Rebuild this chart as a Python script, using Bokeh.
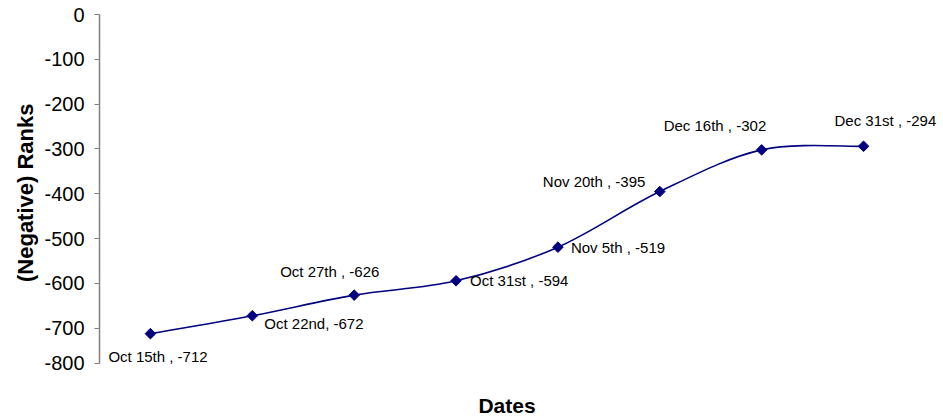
import math
from bokeh.plotting import figure
from bokeh.models import ColumnDataSource, LabelSet, Label, Range1d, FixedTicker, Title
from bokeh.core.properties import value
from bokeh.embed import file_html
from bokeh.resources import INLINE

# ---- data ----
dates = ["Oct 15th", "Oct 22nd", "Oct 27th", "Oct 31st", "Nov 5th", "Nov 20th", "Dec 16th", "Dec 31st"]
ranks = [-712, -672, -626, -594, -519, -395, -302, -294]
label_texts = ["Oct 15th , -712", "Oct 22nd, -672", "Oct 27th , -626", "Oct 31st , -594",
               "Nov 5th , -519", "Nov 20th , -395", "Dec 16th , -302", "Dec 31st , -294"]
y_tick_values = [0, -100, -200, -300, -400, -500, -600, -700, -800]

# ---- styles / positions ----
label_dx = [-42, 12, -74, 14, 13, -117, -98, -29]
label_dy = [-23, -8, 24, 0, 0, 10, 24, 26]
NAVY = "#000080"
FONT = "Liberation Sans"
Y_BOTTOM = -778          # where the value axis ends
Y_VIEW_BOTTOM = -899     # visible room below it, for the "Dates" title
X_EXTRA = 29 / 101.8     # blank room right of the last category, in category units

xs = [i + 0.5 for i in range(len(dates))]

p = figure(width=943, height=417, output_backend="svg", toolbar_location=None,
           x_range=Range1d(0, len(dates) + X_EXTRA), y_range=Range1d(Y_VIEW_BOTTOM, 0),
           min_border_left=99, min_border_right=0, min_border_top=14, min_border_bottom=0,
           x_axis_location=None)
p.outline_line_color = None
p.xgrid.visible = False
p.ygrid.visible = False
p.background_fill_color = "white"
p.border_fill_color = "white"

# smoothed line (Catmull-Rom style Bezier segments, like a spreadsheet smoothed line)
n = len(xs)
x0, y0, x1, y1, cx0, cy0, cx1, cy1 = ([] for _ in range(8))
for i in range(n - 1):
    pa = (xs[max(i - 1, 0)], ranks[max(i - 1, 0)])
    pb = (xs[i], ranks[i])
    pc = (xs[i + 1], ranks[i + 1])
    pd = (xs[min(i + 2, n - 1)], ranks[min(i + 2, n - 1)])
    x0.append(pb[0]); y0.append(pb[1]); x1.append(pc[0]); y1.append(pc[1])
    cx0.append(pb[0] + (pc[0] - pa[0]) / 6); cy0.append(pb[1] + (pc[1] - pa[1]) / 6)
    cx1.append(pc[0] - (pd[0] - pb[0]) / 6); cy1.append(pc[1] - (pd[1] - pb[1]) / 6)
p.bezier(x0=x0, y0=y0, x1=x1, y1=y1, cx0=cx0, cy0=cy0, cx1=cx1, cy1=cy1,
         line_color=NAVY, line_width=1.6)

src = ColumnDataSource(dict(x=xs, y=ranks, label=label_texts, dx=label_dx, dy=label_dy))
p.scatter("x", "y", source=src, marker="square", angle=math.pi / 4, size=7.5,
          fill_color=NAVY, line_color=NAVY)

labels = LabelSet(x="x", y="y", text="label", source=src, x_offset="dx", y_offset="dy",
                  text_align="left", text_baseline="middle", text_font=value(FONT),
                  text_font_size="15px", text_color="black")
p.add_layout(labels)

# y axis
ytick_pos = y_tick_values[:-1] + [Y_BOTTOM]
p.yaxis.bounds = (Y_BOTTOM, 0)
p.yaxis.ticker = FixedTicker(ticks=ytick_pos)
p.yaxis.major_label_overrides = {pos: str(v) for pos, v in zip(ytick_pos, y_tick_values)}
p.yaxis.major_label_text_font = FONT
p.yaxis.major_label_text_font_size = "20px"
p.yaxis.major_label_text_color = "black"
p.yaxis.major_label_standoff = 10
p.yaxis.axis_line_color = "#808080"
p.yaxis.axis_line_width = 1.5
p.yaxis.major_tick_line_color = "#808080"
p.yaxis.major_tick_out = 5
p.yaxis.major_tick_in = 0
p.yaxis.minor_tick_line_color = None

# value-axis title, centred on the drawn axis (not on the taller frame)
y_title = Title(text="(Negative) Ranks", align="right", offset=89, standoff=8,
                vertical_align="bottom", text_font=FONT, text_font_size="22px",
                text_font_style="bold", text_color="black")
p.add_layout(y_title, "left")

# category-axis title (the category axis itself has no line, ticks or labels)
x_title = Label(x=len(dates) / 2, y=Y_VIEW_BOTTOM, y_offset=12, text="Dates",
                text_align="center", text_baseline="middle",
                text_font=FONT, text_font_size="21px", text_font_style="bold",
                text_color="black")
p.add_layout(x_title)

open("out.html", "w").write(file_html(p, INLINE))
